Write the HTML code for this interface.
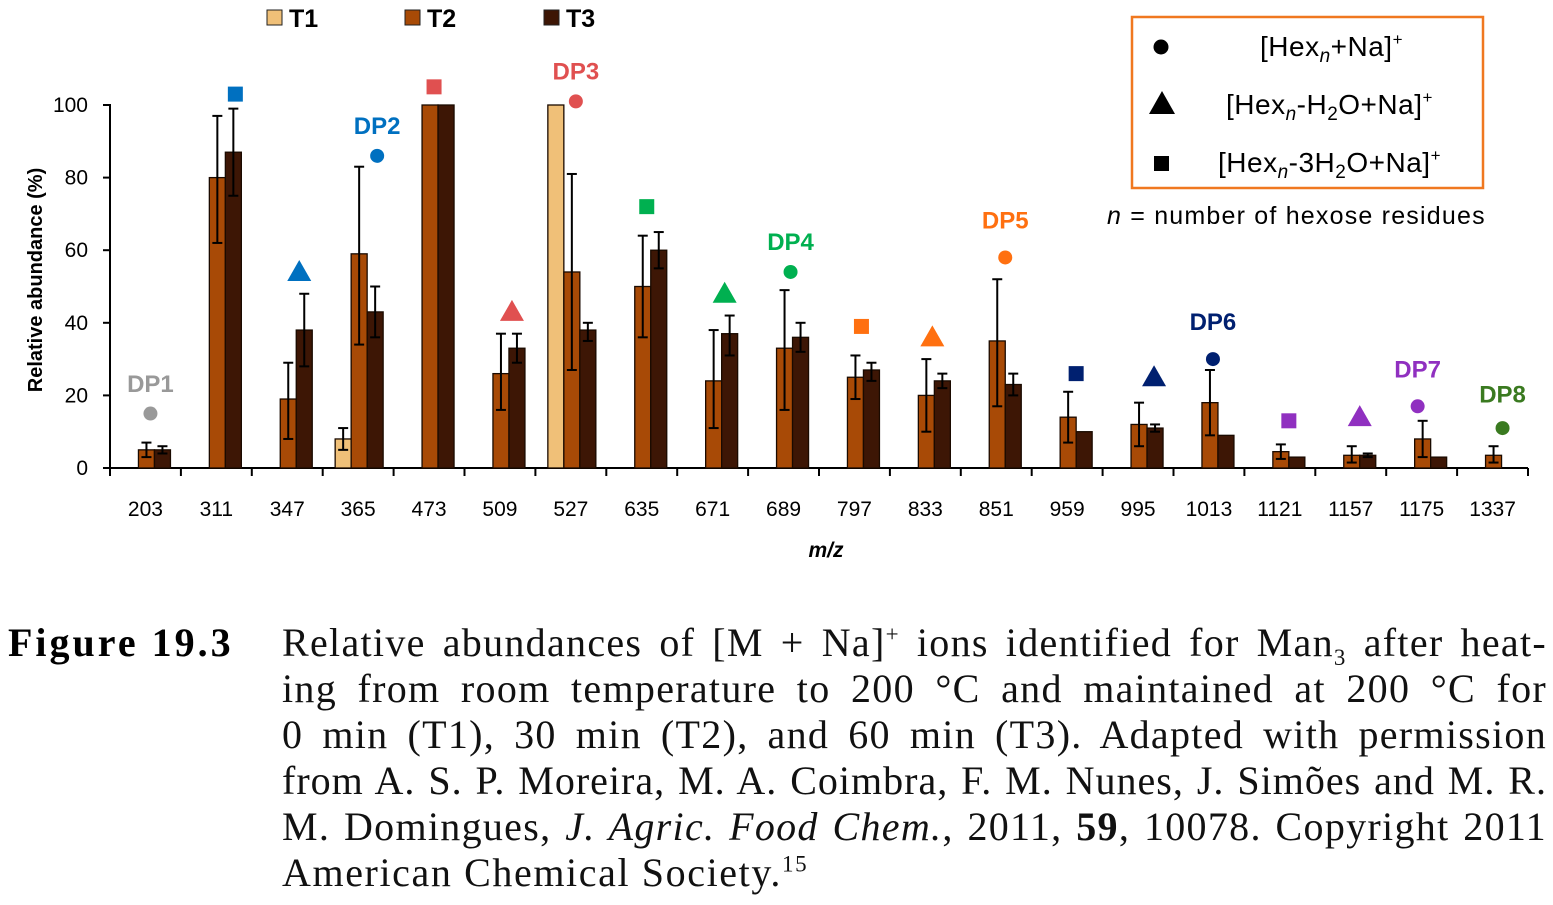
<!DOCTYPE html>
<html><head><meta charset="utf-8"><style>
body{margin:0;background:#fff;width:1553px;height:905px;overflow:hidden}
svg{position:absolute;left:0;top:0}
.cap{position:absolute;left:282px;top:620px;width:1265px;font-family:"Liberation Serif",serif;font-size:40px;line-height:46px;color:#111;letter-spacing:1.3px}
.cap div{text-align:justify;text-align-last:justify;white-space:nowrap}
.cap div.last{text-align-last:left;letter-spacing:1.6px}
.fig{position:absolute;left:8px;top:620px;font-family:"Liberation Serif",serif;font-weight:bold;font-size:40px;line-height:46px;letter-spacing:3px}
sup,sub{font-size:23px;line-height:0}
</style></head><body>
<svg id="chart" width="1553" height="600" font-family="Liberation Sans, sans-serif"></svg>
<div class="fig">Figure 19.3</div>
<div class="cap">
<div>Relative abundances of [M + Na]<sup>+</sup> ions identified for Man<sub>3</sub> after heat-</div>
<div>ing from room temperature to 200 °C and maintained at 200 °C for</div>
<div>0 min (T1), 30 min (T2), and 60 min (T3). Adapted with permission</div>
<div style="letter-spacing:1px">from A. S. P. Moreira, M. A. Coimbra, F. M. Nunes, J. Simões and M. R.</div>
<div>M. Domingues, <i>J. Agric. Food Chem.</i>, 2011, <b>59</b>, 10078. Copyright 2011</div>
<div class="last">American Chemical Society.<sup>15</sup></div>
</div>
<script>
const categories=["203","311","347","365","473","509","527","635","671","689","797","833","851","959","995","1013","1121","1157","1175","1337"];
const t1=[0,0,0,8,0,0,100,0,0,0,0,0,0,0,0,0,0,0,0,0];
const t1Hi=[0,0,0,11,0,0,100,0,0,0,0,0,0,0,0,0,0,0,0,0];
const t1Lo=[0,0,0,5,0,0,100,0,0,0,0,0,0,0,0,0,0,0,0,0];
const t2=[5,80,19,59,100,26,54,50,24,33,25,20,35,14,12,18,4.5,3.5,8,3.5];
const t2Hi=[7,97,29,83,100,37,81,64,38,49,31,30,52,21,18,27,6.5,6,13,6];
const t2Lo=[3,62,8,34,100,16,27,36,11,16,19,10,17,7,6,9,2.5,1.5,3,1.5];
const t3=[5,87,38,43,100,33,38,60,37,36,27,24,23,10,11,9,3,3.5,3,0];
const t3Hi=[6,99,48,50,100,37,40,65,42,40,29,26,26,10,12,9,3,4,3,0];
const t3Lo=[4,75,28,36,100,29,35,55,31,32,24,22,20,10,10,9,3,3,3,0];
const markerCat=["203","311","347","365","473","509","527","635","671","689","797","833","851","959","995","1013","1121","1157","1175","1337"];
const markerVal=[15,103,54,86,105,43,101,72,48,54,39,36,58,26,25,30,13,14,17,11];
const markerType=["c","s","t","c","s","t","c","s","t","c","s","t","c","s","t","c","s","t","c","c"];
const dpLabels=["DP1","DP2","DP3","DP4","DP5","DP6","DP7","DP8"];
const dpCat=["203","365","527","689","851","1013","1175","1337"];
const dpVal=[21,92,107,60,66,38,25,18];
const yTicks=[0,20,40,60,80,100];

const colors={c203:"#999",c311:"#0070c0",c347:"#0070c0",c365:"#0070c0",c473:"#e05050",c509:"#e05050",c527:"#e05050",c635:"#00b050",c671:"#00b050",c689:"#00b050",c797:"#ff7010",c833:"#ff7010",c851:"#ff7010",c959:"#002070",c995:"#002070",c1013:"#002070",c1121:"#9030c0",c1157:"#9030c0",c1175:"#9030c0",c1337:"#3a7a20"};
const mOff=[5,19,12,19,5,12,5,5,12,7,7,7,9,9,16,4,9,9,-4,10];
const svg=document.getElementById('chart');const NS="http://www.w3.org/2000/svg";
const x0=110,step=70.9,yBase=468,yScale=3.63;
const xC=i=>x0+step*(i+0.5);const yS=v=>yBase-v*yScale;
function el(t,a,p){const e=document.createElementNS(NS,t);for(const k in a)e.setAttribute(k,a[k]);(p||svg).appendChild(e);return e;}
let ax=el('line',{x1:x0,y1:yBase,x2:x0+step*20,y2:yBase,stroke:'#000','stroke-width':2});

let ay=el('line',{x1:x0,y1:yS(100)-1,x2:x0,y2:yBase,stroke:'#000','stroke-width':2});

for(let i=0;i<=20;i++){el('line',{x1:x0+step*i,y1:yBase,x2:x0+step*i,y2:yBase+8,stroke:'#000','stroke-width':2});}
yTicks.forEach(v=>{el('line',{x1:x0-7,y1:yS(v),x2:x0,y2:yS(v),stroke:'#000','stroke-width':2});
const t=el('text',{x:x0-22,y:yS(v)+7,'text-anchor':'end','font-size':21});t.textContent=v;
});
categories.forEach((c,i)=>{const t=el('text',{x:xC(i),y:516,'text-anchor':'middle','font-size':21});t.textContent=c;
});
let yt=el('text',{transform:'translate(42,280) rotate(-90)','text-anchor':'middle','font-size':20,'font-weight':'bold'});yt.textContent='Relative abundance (%)';

let xt=el('text',{x:826,y:557,'text-anchor':'middle','font-size':21,'font-weight':'bold','font-style':'italic'});xt.textContent='m/z';

const series=[[t1,t1Hi,t1Lo,"#f0c078",-23,'t1'],[t2,t2Hi,t2Lo,"#a84a06",-7,'t2'],[t3,t3Hi,t3Lo,"#3d1605",9,'t3']];
series.forEach(s=>{categories.forEach((c,i)=>{const v=s[0][i];if(v<=0)return;
const r=el('rect',{x:xC(i)+s[4],y:yS(v),width:16,height:v*yScale,fill:s[3],stroke:'#1a0a00','stroke-width':1.3});

const hi=s[1][i],lo=s[2][i];if(hi-lo>0.6){const cx=xC(i)+s[4]+8;
const g=el('g',{stroke:'#000','stroke-width':2});
el('line',{x1:cx,y1:yS(hi),x2:cx,y2:yS(lo)},g);el('line',{x1:cx-5,y1:yS(hi),x2:cx+5,y2:yS(hi)},g);el('line',{x1:cx-5,y1:yS(lo),x2:cx+5,y2:yS(lo)},g);}
});});
markerCat.forEach((c,k)=>{const i=categories.indexOf(c);const x=xC(i)+mOff[k],y=yS(markerVal[k]);const col=colors['c'+c];let m;
if(markerType[k]=='c')m=el('circle',{cx:x,cy:y,r:7,fill:col});
else if(markerType[k]=='s')m=el('rect',{x:x-7.5,y:y-7.5,width:15,height:15,fill:col});
else m=el('polygon',{points:`${x},${y-12} ${x-12},${y+9} ${x+12},${y+9}`,fill:col});
});
dpLabels.forEach((d,k)=>{const i=categories.indexOf(dpCat[k]);const t=el('text',{x:xC(i)+mOff[markerCat.indexOf(dpCat[k])],y:yS(dpVal[k]),'text-anchor':'middle','font-size':24,'font-weight':'bold',fill:colors['c'+dpCat[k]]});t.textContent=d;
});
[["T1","#f0c078",267],["T2","#a84a06",405],["T3","#3d1605",544]].forEach(l=>{
const g=el('g',{});
el('rect',{x:l[2],y:10,width:15,height:15,fill:l[1],stroke:'#222','stroke-width':1},g);
const t=el('text',{x:l[2]+22,y:27,'font-size':25,'font-weight':'bold'},g);t.textContent=l[0];});
const box=el('rect',{x:1132,y:17,width:351,height:171,fill:'none',stroke:'#f07820','stroke-width':2.5});

el('circle',{cx:1161,cy:47,r:7.5,fill:'#000'});
el('polygon',{points:'1162,91 1149,114 1175,114',fill:'#000'});
el('rect',{x:1154,y:156,width:15,height:15,fill:'#000'});
const lg=[[1260,56,'[Hex<tspan font-style="italic" font-size="19" dy="6">n</tspan><tspan dy="-6">+Na]</tspan><tspan font-size="17" dy="-11">+</tspan>'],
[1226,114,'[Hex<tspan font-style="italic" font-size="19" dy="6">n</tspan><tspan dy="-6">-H</tspan><tspan font-size="19" dy="6">2</tspan><tspan dy="-6">O+Na]</tspan><tspan font-size="17" dy="-11">+</tspan>'],
[1218,172,'[Hex<tspan font-style="italic" font-size="19" dy="6">n</tspan><tspan dy="-6">-3H</tspan><tspan font-size="19" dy="6">2</tspan><tspan dy="-6">O+Na]</tspan><tspan font-size="17" dy="-11">+</tspan>']];
lg.forEach(l=>{const t=el('text',{x:l[0],y:l[1],'font-size':28,'letter-spacing':0.5});t.innerHTML=l[2];});
const nt=el('text',{x:1107,y:224,'font-size':25,'letter-spacing':1.2});nt.innerHTML='<tspan font-style="italic">n</tspan>  = number of hexose  residues';

</script>
</body></html>
